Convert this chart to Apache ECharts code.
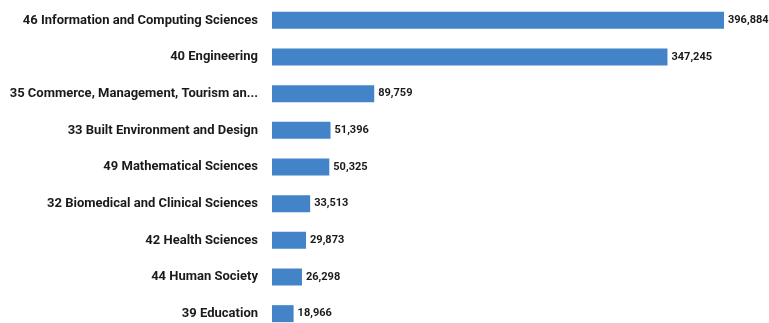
<!DOCTYPE html>
<html><head><meta charset="utf-8">
<script src="https://cdn.jsdelivr.net/npm/echarts@6/dist/echarts.min.js"></script>
<style>html,body{margin:0;padding:0;background:#fff}#c{width:769px;height:323px}</style>
</head><body><div id="c"></div>
<script>
const categories = [
  "46 Information and Computing Sciences",
  "40 Engineering",
  "35 Commerce, Management, Tourism an...",
  "33 Built Environment and Design",
  "49 Mathematical Sciences",
  "32 Biomedical and Clinical Sciences",
  "42 Health Sciences",
  "44 Human Society",
  "39 Education"
];
const values = [396884, 347245, 89759, 51396, 50325, 33513, 29873, 26298, 18966];

const chart = echarts.init(document.getElementById('c'), null, {renderer: 'canvas'});
chart.setOption({
  animation: false,
  grid: {left: 272, right: 45, top: 2, height: 330, containLabel: false, outerBoundsMode: 'none'},
  xAxis: {type: 'value', min: 0, max: 396884, show: false},
  yAxis: {
    type: 'category', inverse: true, data: categories,
    axisLine: {show: false}, axisTick: {show: false},
    axisLabel: {margin: 14, color: '#1a1a1a', fontFamily: 'Roboto', fontWeight: 'bold', fontSize: 13}
  },
  series: [{
    type: 'bar', data: values, barWidth: 17,
    itemStyle: {color: '#4384c8'},
    label: {show: true, position: 'right', distance: 4, color: '#1a1a1a', fontFamily: 'Roboto', fontWeight: 'bold', fontSize: 11,
      formatter: p => p.value.toLocaleString('en-US')}
  }]
});
</script></body></html>
